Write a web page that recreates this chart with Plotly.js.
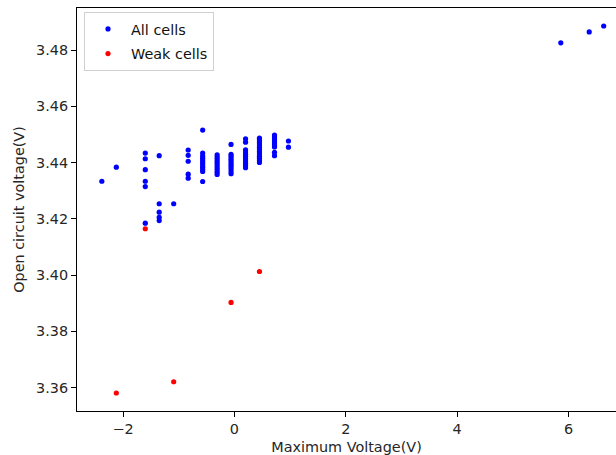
<!DOCTYPE html>
<html>
<head>
<meta charset="utf-8">
<script src="https://cdn.plot.ly/plotly-3.0.1.min.js"></script>
<style>html,body{margin:0;padding:0;background:#fff;}#chart{width:616px;height:455px;}</style>
</head>
<body>
<div id="chart"></div>
<script>
// All cells: maximum voltage (x) and open circuit voltage (y)
const allX = [
  -2.38,
  -2.12,
  -1.60, -1.60, -1.60, -1.60, -1.60, -1.60,
  -1.35, -1.35, -1.35, -1.35, -1.35,
  -1.09,
  -0.83, -0.83, -0.83, -0.83, -0.83,
  -0.57, -0.57, -0.57, -0.57, -0.57, -0.57, -0.57, -0.57, -0.57, -0.57, -0.57,
  -0.31, -0.31, -0.31, -0.31, -0.31, -0.31, -0.31, -0.31, -0.31, -0.31,
  -0.06, -0.06, -0.06, -0.06, -0.06, -0.06, -0.06, -0.06, -0.06, -0.06, -0.06,
  0.20, 0.20, 0.20, 0.20, 0.20, 0.20, 0.20, 0.20, 0.20, 0.20, 0.20,
  0.45, 0.45, 0.45, 0.45, 0.45, 0.45, 0.45, 0.45, 0.45, 0.45, 0.45, 0.45,
  0.72, 0.72, 0.72, 0.72, 0.72, 0.72, 0.72, 0.72, 0.72,
  0.97, 0.97,
  5.86, 6.37, 6.63
];
const allY = [
  3.4334,
  3.4384,
  3.4434, 3.4414, 3.4375, 3.4334, 3.4315, 3.4185,
  3.4425, 3.4254, 3.4224, 3.4206, 3.4194,
  3.4254,
  3.4445, 3.4426, 3.4405, 3.4359, 3.4345,
  3.4516, 3.4434, 3.4424, 3.4416, 3.4408, 3.4400, 3.4392, 3.4384, 3.4376, 3.4369, 3.4333,
  3.4428, 3.4420, 3.4413, 3.4405, 3.4397, 3.4389, 3.4381, 3.4374, 3.4366, 3.4358,
  3.4465, 3.4430, 3.4423, 3.4415, 3.4408, 3.4400, 3.4393, 3.4386, 3.4378, 3.4370, 3.4361,
  3.4485, 3.4473, 3.4446, 3.4438, 3.4430, 3.4422, 3.4414, 3.4406, 3.4398, 3.4390, 3.4382,
  3.4487, 3.4479, 3.4471, 3.4463, 3.4455, 3.4447, 3.4439, 3.4431, 3.4423, 3.4416, 3.4408, 3.4401,
  3.4498, 3.4491, 3.4484, 3.4477, 3.4470, 3.4463, 3.4456, 3.4437, 3.4425,
  3.4477, 3.4455,
  3.4826, 3.4865, 3.4886
];
// Weak cells
const weakX = [-1.60, 0.45, -0.06, -1.09, -2.12];
const weakY = [3.4165, 3.4013, 3.3903, 3.3621, 3.3581];

const seriesNames = ['All cells', 'Weak cells'];
const xTickVals = [-2, 0, 2, 4, 6];
const yTickVals = [3.36, 3.38, 3.40, 3.42, 3.44, 3.46, 3.48];
const yTickText = ['3.36', '3.38', '3.40', '3.42', '3.44', '3.46', '3.48'];

const font = {family: 'DejaVu Sans, sans-serif', size: 14.4, color: '#262626'};

const traces = [
  {x: allX, y: allY, type: 'scatter', mode: 'markers', name: seriesNames[0],
   legendgroup: 'a', marker: {color: '#0000ff', size: 5.2}},
  {x: weakX, y: weakY, type: 'scatter', mode: 'markers', name: seriesNames[1],
   legendgroup: 'b', marker: {color: '#ff0000', size: 5.2}}
];

const layout = {
  width: 616, height: 455,
  margin: {l: 77, r: 0, t: 8, b: 44, pad: 0},
  paper_bgcolor: '#fff', plot_bgcolor: '#fff',
  font: font,
  showlegend: true,
  legend: {x: 0.013, y: 0.99, xanchor: 'left', yanchor: 'top',
           bordercolor: '#d0d0d0', borderwidth: 1, bgcolor: 'rgba(255,255,255,0.8)',
           font: {family: 'DejaVu Sans, sans-serif', size: 14.4, color: '#111'},
           traceorder: 'grouped', tracegroupgap: 3, itemwidth: 36},
  xaxis: {
    range: [-2.826, 6.851], tickvals: xTickVals, showgrid: false, zeroline: false,
    showline: true, linecolor: '#000', linewidth: 1, mirror: true,
    ticks: 'outside', ticklen: 5, tickwidth: 1, tickcolor: '#000',
    tickfont: font,
    title: {text: 'Maximum Voltage(V)', font: font, standoff: 5}
  },
  yaxis: {
    range: [3.3517, 3.495], tickvals: yTickVals, ticktext: yTickText,
    showgrid: false, zeroline: false,
    showline: true, linecolor: '#000', linewidth: 1, mirror: false,
    ticks: 'outside', ticklen: 5, tickwidth: 1, tickcolor: '#000',
    tickfont: font,
    title: {text: 'Open circuit voltage(V)', font: font, standoff: 8}
  }
};

Plotly.newPlot('chart', traces, layout, {displayModeBar: false, staticPlot: true});
</script>
</body>
</html>
